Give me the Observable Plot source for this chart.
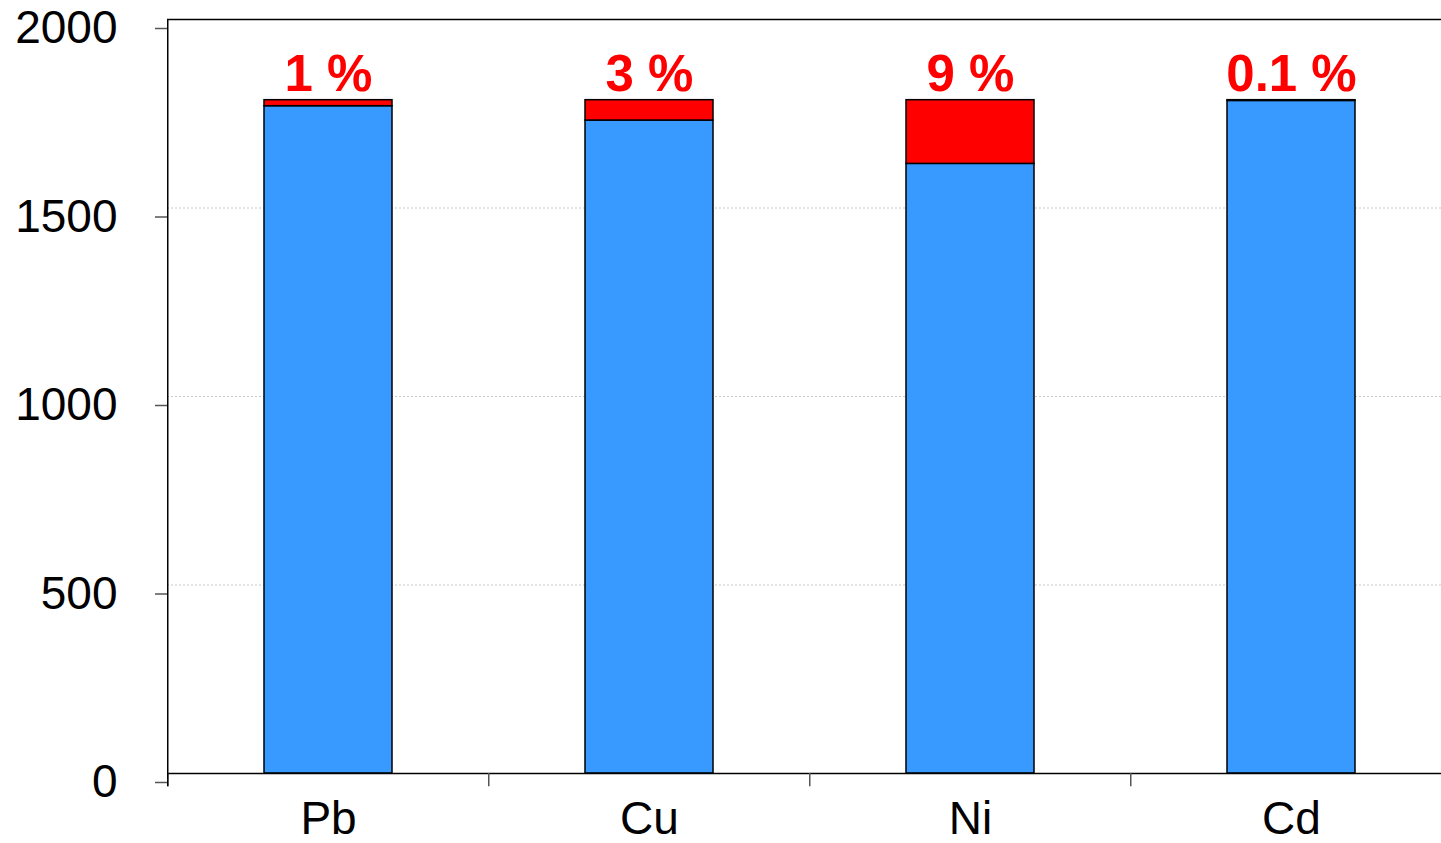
<!DOCTYPE html>
<html>
<head>
<meta charset="utf-8">
<script src="https://cdn.jsdelivr.net/npm/d3@7"></script>
<script src="https://cdn.jsdelivr.net/npm/@observablehq/plot@0.6"></script>
<style>
  html, body { margin: 0; padding: 0; background: #fff; overflow: hidden; }
  #chart svg { display: block; }
</style>
</head>
<body>
<div id="chart"></div>
<script>
const elements = ["Pb", "Cu", "Ni", "Cd"];
const baseValues = [1770, 1732, 1617, 1784];
const extraValues = [16, 54, 169, 2];
const pctLabels = ["1 %", "3 %", "9 %", "0.1 %"];
const yTicks = [0, 500, 1000, 1500, 2000];
const gridTicks = [500, 1000, 1500];
const parts = ["base", "extra"];

const rows = [];
elements.forEach((e, i) => {
  rows.push({element: e, part: "base", value: baseValues[i]});
  rows.push({element: e, part: "extra", value: extraValues[i]});
});
const totals = elements.map((e, i) => ({element: e, total: baseValues[i] + extraValues[i], label: pctLabels[i]}));

const W = 1441, H = 843;
const xRange = [167, 1453];
const step = (xRange[1] - xRange[0]) / elements.length;

const chart = Plot.plot({
  width: W,
  height: H,
  marginLeft: 167,
  marginRight: 0,
  marginTop: 19,
  marginBottom: 70,
  style: {fontFamily: "'Liberation Sans', Arial, sans-serif", overflow: "hidden", background: "#fff"},
  x: {domain: elements, range: xRange, paddingInner: 0.6, paddingOuter: 0.3, axis: null},
  y: {domain: [0, 2000], axis: null},
  color: {domain: parts, range: ["#3899FF", "#FF0000"]},
  marks: [
    Plot.ruleY(gridTicks, {stroke: "#c8c8c8", strokeDasharray: "2,2", strokeWidth: 1}),
    Plot.barY(rows, {x: "element", y: "value", fill: "part", stroke: "#000", strokeWidth: 1.5}),
    Plot.ruleY([0], {stroke: "#000", strokeWidth: 1.5}),
    Plot.ruleY([2000], {stroke: "#000", strokeWidth: 1.5}),
    Plot.ruleX(elements, {x: d => d, dx: -step / 2, y1: 0, y2: -35, stroke: "#555", strokeWidth: 1.5}),
    Plot.ruleX([elements[0]], {x: d => d, dx: -step / 2, y1: -35, y2: 2000, stroke: "#000", strokeWidth: 1.5}),
    Plot.axisY({ticks: yTicks, tickSize: 12, tickPadding: 38, fontSize: 46, dy: 9, stroke: "#555", strokeWidth: 1.5, tickFormat: d => String(d), label: null}),
    Plot.axisX({tickSize: 0, tickPadding: 28, fontSize: 46, label: null}),
    Plot.text(totals, {x: "element", y: "total", text: "label", lineAnchor: "bottom", dy: -9, fill: "#FF0000", fontSize: 51, fontWeight: "bold"})
  ]
});
document.getElementById("chart").appendChild(chart);
</script>
</body>
</html>
